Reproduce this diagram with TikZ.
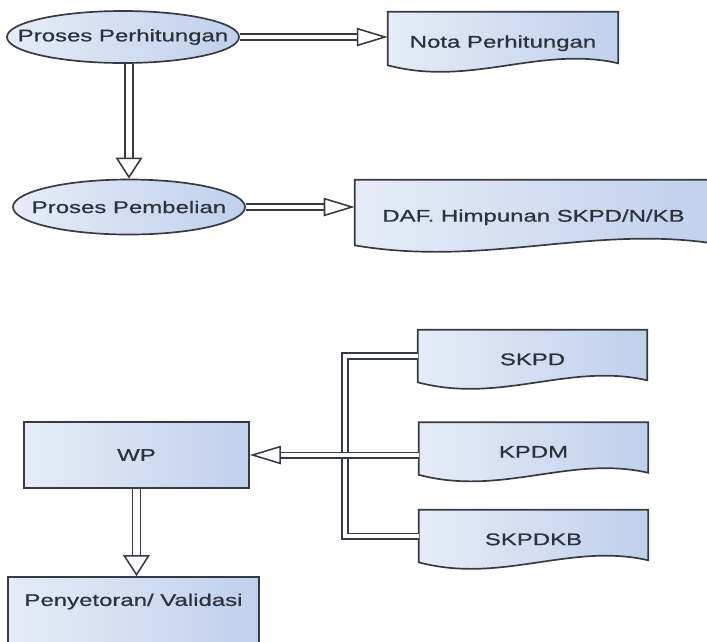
\documentclass[tikz,border=0pt]{standalone}
\usepackage{fontspec}
\setmainfont{Liberation Sans}[FakeStretch=1.42, FakeBold=0.8]
\usepackage{xcolor}
\usetikzlibrary{arrows.meta,positioning,calc,backgrounds,shapes.geometric}

\definecolor{boxl}{RGB}{230,236,247}
\definecolor{boxr}{RGB}{192,208,236}
\definecolor{edge}{RGB}{55,58,66}
\definecolor{ink}{RGB}{45,50,62}

\begin{document}
\begin{tikzpicture}[
  x=0.025cm, y=-0.025cm,
  font=\fontsize{12}{14}\selectfont, text=ink,
  proc/.style={ellipse, draw=edge, line width=1.2pt, left color=boxl, right color=boxr, inner sep=0pt, minimum width=5.8cm},
  box/.style={rectangle, draw=edge, line width=1.2pt, left color=boxl, right color=boxr, inner sep=0pt},
  doc/.style={rectangle, inner sep=0pt, minimum width=5.725cm, minimum height=1.3cm, text height=13pt, text depth=0pt},
  docline/.style={draw=edge, line width=1.2pt, left color=boxl, right color=boxr},
  % double shafts, open heads
  flow/.style={draw=edge, line width=1.1pt, double=white, double distance=2.8pt, -{Triangle[open, length=22pt, width=13pt]}},
  flowv/.style={draw=edge, line width=1.1pt, double=white, double distance=4.8pt, -{Triangle[open, length=15pt, width=19pt]}},
  pipe/.style={draw=edge, line width=1.1pt, double=white, double distance=2.8pt},
]
\useasboundingbox (0,0) rectangle (707,641);

% Processes
\node[proc, minimum height=1.3cm] (pp) at (123,37) {\makebox[0pt]{Proses Perhitungan}};
\node[proc, minimum height=1.375cm] (pb) at (129,207) {\makebox[0pt]{Proses Pembelian}};

% Documents
\node[doc, minimum width=5.75cm, minimum height=1.325cm] (nota) at (503,38.5) {Nota Perhitungan};
\node[doc, minimum width=8.925cm, minimum height=1.625cm] (daf) at (533.5,212.5) {DAF. Himpunan SKPD/N/KB};
\node[doc] (skpd) at (532.5,356) {SKPD};
\node[doc] (kpdm) at (533.5,448.5) {KPDM};
\node[doc] (skpdkb) at (533.5,536) {SKPDKB};

\begin{scope}[on background layer]
  \foreach \d in {nota,daf,skpd,kpdm,skpdkb}
    \draw[docline] (\d.north west) -- (\d.north east) -- ($(\d.south east)+(0,-2)$)
      .. controls ($(\d.south east)!0.34!(\d.south west)+(0,-20)$) and ($(\d.south west)!0.36!(\d.south east)+(0,22)$) .. (\d.south west) -- cycle;
\end{scope}

% WP and validation
\node[box, minimum width=5.625cm, minimum height=1.65cm] (wp) at (136.5,455) {WP};
\node[box, minimum width=6.275cm, minimum height=1.7cm, text depth=16pt] (pv) at (133.5,611) {Penyetoran/ Validasi};

\draw[flow] (pp.east) -- (pp.east -| nota.west);
\draw[flowv] (pp.south -| pb.north) -- (pb.north);
\draw[flow] (pb.east) -- (pb.east -| daf.west);

\coordinate (bus) at (345,457);
\draw[pipe] (skpd.west) -| (bus) |- (skpdkb.west);
\draw[flow] (wp.east -| kpdm.west) -- (wp.east);
\draw[flowv] (wp.south) -- (wp.south |- pv.north);

\end{tikzpicture}
\end{document}
